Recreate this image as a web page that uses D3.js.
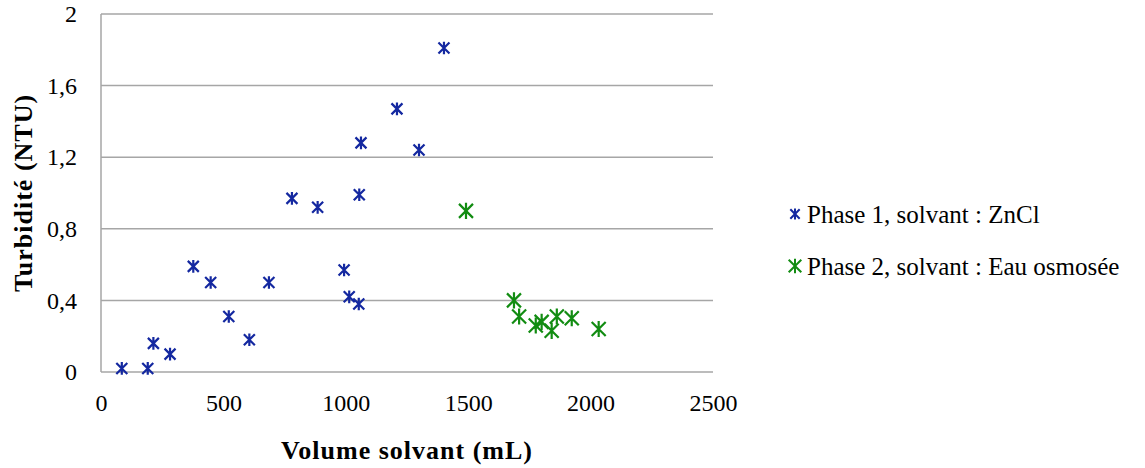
<!DOCTYPE html>
<html><head><meta charset="utf-8">
<script src="https://cdn.jsdelivr.net/npm/d3@7"></script>
<style>body{margin:0;background:#fff;} svg{display:block;} text{font-family:'Liberation Serif', serif;}</style>
</head><body>
<svg id="c" width="1145" height="468"></svg>
<script>
const phase1X = [85, 191, 214, 282, 377, 448, 522, 606, 686, 780, 885, 993, 1014, 1053, 1055, 1062, 1209, 1299, 1401];
const phase1Y = [0.02, 0.02, 0.16, 0.10, 0.59, 0.50, 0.31, 0.18, 0.50, 0.97, 0.92, 0.57, 0.42, 0.38, 0.99, 1.28, 1.47, 1.24, 1.81];
const phase2X = [1491, 1687, 1708, 1776, 1800, 1841, 1862, 1923, 2033];
const phase2Y = [0.90, 0.40, 0.31, 0.26, 0.28, 0.23, 0.31, 0.30, 0.24];
const xTicks = [0, 500, 1000, 1500, 2000, 2500];
const yTicks = [0, 0.4, 0.8, 1.2, 1.6, 2];
const seriesNames = ["Phase 1, solvant : ZnCl", "Phase 2, solvant : Eau osmosée"];
const seriesColors = ["#1428a0", "#128c12"];
const markerSizes = [5.5, 7];

const svg = d3.select("#c");
const L = 101, R = 713, T = 14, B = 372;
const x = d3.scaleLinear().domain([0, 2500]).range([L, R]);
const y = d3.scaleLinear().domain([0, 2]).range([B, T]);
const fmt = d => d3.format("")(d).replace(".", ",");
const setFont = (sel, size, weight, spacing) => sel.style("font-family", "'Liberation Serif', serif")
  .style("font-size", size + "px").style("font-weight", weight || "normal")
  .style("letter-spacing", (spacing || 0) + "px").attr("fill", "#000");

// gridlines
svg.append("g").selectAll("line").data(yTicks).join("line")
  .attr("x1", L).attr("x2", R).attr("y1", d => y(d)).attr("y2", d => y(d))
  .attr("stroke", "#a6a6a6").attr("stroke-width", 1.5);
svg.append("line").attr("x1", L).attr("x2", L).attr("y1", T).attr("y2", B)
  .attr("stroke", "#a6a6a6").attr("stroke-width", 1.5);

// axes
const yAxis = svg.append("g").attr("transform", `translate(${L},0)`)
  .call(d3.axisLeft(y).tickValues(yTicks).tickFormat(fmt).tickSize(0).tickPadding(24));
yAxis.select(".domain").remove();
setFont(yAxis.selectAll("text"), 24);
const xAxis = svg.append("g").attr("transform", `translate(0,${B})`)
  .call(d3.axisBottom(x).tickValues(xTicks).tickFormat(d3.format("")).tickSize(0).tickPadding(22));
xAxis.select(".domain").remove();
setFont(xAxis.selectAll("text"), 24);

// titles
setFont(svg.append("text").attr("x", (L + R) / 2).attr("y", 459).attr("text-anchor", "middle")
  .text("Volume solvant (mL)"), 26, "bold", 1);
setFont(svg.append("text").attr("transform", `translate(32,${(T + B) / 2}) rotate(-90)`).attr("text-anchor", "middle")
  .text("Turbidité (NTU)"), 26, "bold", 1);

function star(s) {
  return `M${-s},${-s}L${s},${s}M${-s},${s}L${s},${-s}M0,${-s * 1.15}L0,${s * 1.15}`;
}
const series = [
  {xs: phase1X, ys: phase1Y},
  {xs: phase2X, ys: phase2Y}
];
series.forEach((s, i) => {
  svg.append("g").selectAll("path").data(s.xs.map((v, j) => [v, s.ys[j]])).join("path")
    .attr("transform", d => `translate(${x(d[0])},${y(d[1])})`)
    .attr("d", star(markerSizes[i]))
    .attr("stroke", seriesColors[i]).attr("stroke-width", 2.2).attr("fill", "none");
});

// legend
const lg = svg.append("g");
seriesNames.forEach((n, i) => {
  const cy = 214 + i * 52;
  lg.append("path").attr("transform", `translate(795,${cy})`).attr("d", star(markerSizes[i] * (i === 0 ? 0.85 : 0.9)))
    .attr("stroke", seriesColors[i]).attr("stroke-width", 2).attr("fill", "none");
  setFont(lg.append("text").attr("x", 807).attr("y", cy + 9).text(n), 25);
});
</script>
</body></html>
